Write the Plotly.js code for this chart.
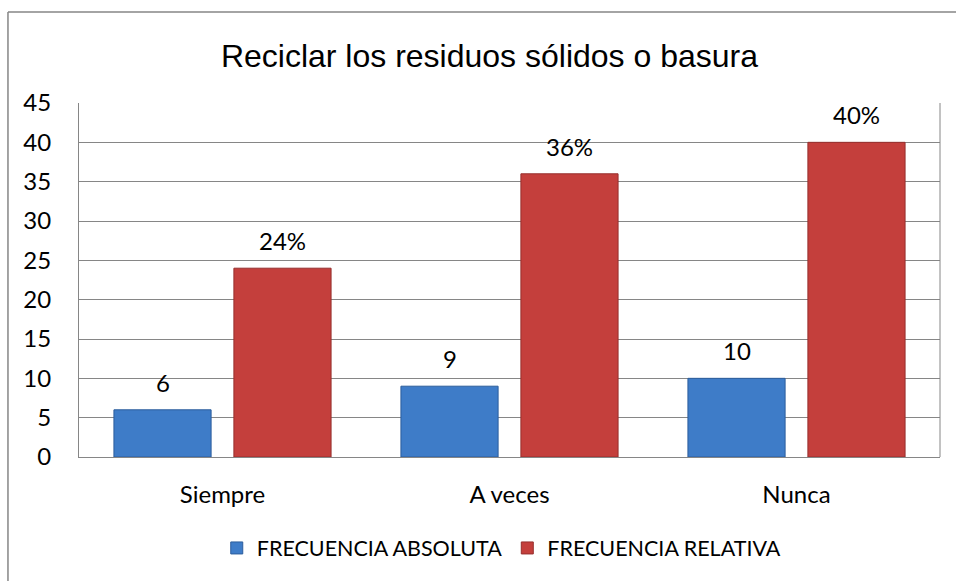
<!DOCTYPE html>
<html>
<head>
<meta charset="utf-8">
<script src="https://cdn.plot.ly/plotly-3.0.1.min.js"></script>
<style>html,body{margin:0;padding:0;background:#fff;}#chart{width:956px;height:581px;}</style>
</head>
<body>
<div id="chart"></div>
<script>
const categories = ["Siempre", "A veces", "Nunca"];
const absoluta = [6, 9, 10];
const relativa = [24, 36, 40];
const absolutaLabels = ["6", "9", "10"];
const relativaLabels = ["24%", "36%", "40%"];
const seriesNames = ["FRECUENCIA ABSOLUTA", "FRECUENCIA RELATIVA"];
const yTicks = [0, 5, 10, 15, 20, 25, 30, 35, 40, 45];

const labelFont = {family: "Lato, 'Open Sans', sans-serif", size: 24, color: "#000"};
const legendFont = {family: "Lato, 'Open Sans', sans-serif", size: 21.5, color: "#000"};

const traces = [
  {type: "bar", name: seriesNames[0], x: categories, y: absoluta,
   marker: {color: "#3e7cc8", line: {color: "#2c5d9c", width: 1}}, hoverinfo: "none"},
  {type: "bar", name: seriesNames[1], x: categories, y: relativa,
   marker: {color: "#c43f3c", line: {color: "#962f2d", width: 1}}, hoverinfo: "none"}
];

const annotations = [];
categories.forEach((c, i) => {
  annotations.push({x: c, y: absoluta[i], xref: "x", yref: "y", text: absolutaLabels[i],
    showarrow: false, xshift: -60, yshift: 11, yanchor: "bottom", font: labelFont});
  annotations.push({x: c, y: relativa[i], xref: "x", yref: "y", text: relativaLabels[i],
    showarrow: false, xshift: 60, yshift: 11, yanchor: "bottom", font: labelFont});
});

const layout = {
  width: 956, height: 581,
  margin: {l: 79, r: 16, t: 103, b: 124},
  paper_bgcolor: "#fff", plot_bgcolor: "#fff",
  title: {text: "Reciclar los residuos sólidos o basura",
    font: {family: "'Liberation Sans', Arial, sans-serif", size: 32, color: "#000"},
    x: 0.512, xanchor: "center", y: 0.904, yanchor: "middle"},
  barmode: "group", bargap: 0.164, bargroupgap: 0.19,
  xaxis: {type: "category", showline: true, linecolor: "#868686", linewidth: 1,
    mirror: false, showgrid: false, ticks: "", ticklabelstandoff: 16,
    tickfont: labelFont, fixedrange: true},
  yaxis: {range: [0, 45], tickvals: yTicks, ticktext: yTicks.map(String),
    showline: true, linecolor: "#868686", linewidth: 1,
    showgrid: true, gridcolor: "#868686", gridwidth: 1, zeroline: false,
    ticks: "", ticklabelstandoff: 22, tickfont: labelFont, fixedrange: true},
  showlegend: true,
  legend: {orientation: "h", x: 0.491, xanchor: "center", y: -0.257, yanchor: "middle",
    font: legendFont, bgcolor: "rgba(0,0,0,0)", traceorder: "normal", itemwidth: 30},
  annotations: annotations,
  shapes: [
    {type: "line", xref: "paper", yref: "paper", x0: -0.0825, x1: 1.1, y0: 1.257, y1: 1.257,
     line: {color: "#868686", width: 1.5}},
    {type: "line", xref: "paper", yref: "paper", x0: -0.0825, x1: -0.0825, y0: 1.257, y1: -0.5,
     line: {color: "#868686", width: 1.5}},
    {type: "line", xref: "paper", yref: "paper", x0: 1, x1: 1, y0: 0, y1: 1,
     line: {color: "#868686", width: 1}}
  ]
};

Plotly.newPlot("chart", traces, layout, {displayModeBar: false, staticPlot: true});
</script>
</body>
</html>
